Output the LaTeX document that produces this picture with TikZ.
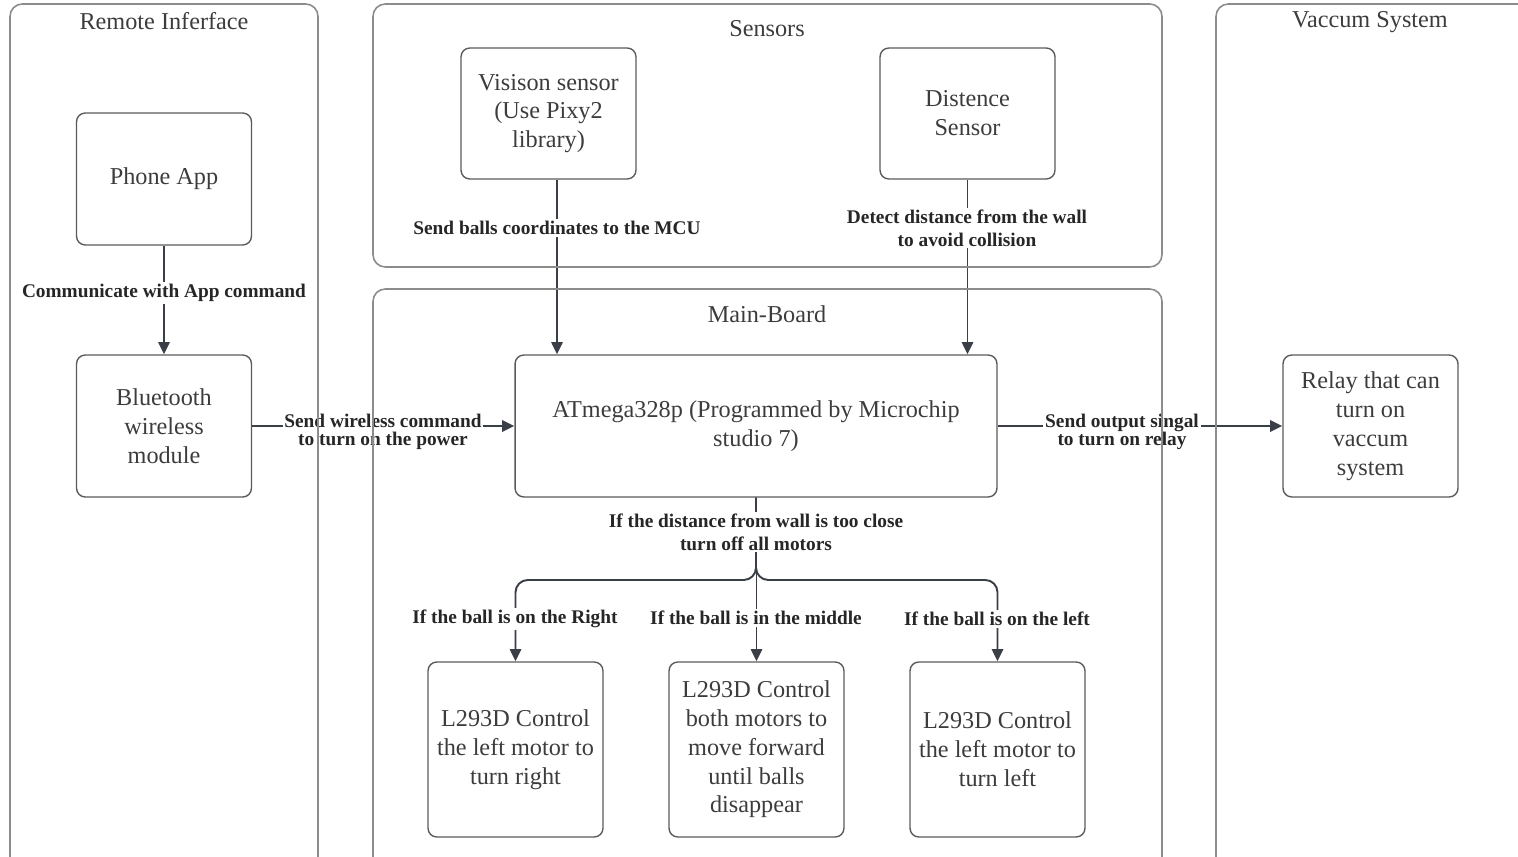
\documentclass[tikz,border=0pt]{standalone}
\usepackage{fontspec}
\setmainfont{Liberation Serif}
\usepackage{tikz}
\usetikzlibrary{shapes.geometric, arrows, arrows.meta}
\definecolor{linegray}{HTML}{3A3F47}
\definecolor{framegray}{HTML}{8C8C8C}
\definecolor{boxgray}{HTML}{5A5A5A}
\definecolor{textgray}{HTML}{3C3C3C}
\tikzstyle{group} = [draw=framegray, rounded corners=7pt, line width=0.9pt]
\tikzstyle{grouptitle} = [text=textgray, font=\fontsize{13.8}{16.4}\selectfont]
\tikzstyle{process} = [rectangle, rounded corners=5pt, minimum width=3.5cm, minimum height=2.84cm, align=center, draw=boxgray, line width=0.8pt, text=textgray, font=\fontsize{13.8}{16.4}\selectfont]
\tikzstyle{lbl} = [fill=white, inner sep=1pt, align=center, text=black!85, font=\bfseries\fontsize{11}{13}\selectfont]
\tikzstyle{arrow} = [line width=1.1pt, draw=linegray, -{Triangle[length=7pt,width=6.5pt]}]

\begin{document}
\begin{tikzpicture}[x=0.02cm, y=-0.02cm]
        \useasboundingbox (0,0) rectangle (1518,857);
        \clip (0,0) rectangle (1518,857);
        % boxes
        \node (app) [process, minimum height=2.64cm] at (164,179) {Phone App};
        \node (bt) [process] at (164,426) {Bluetooth\\wireless\\module};
        \node (vis) [process, minimum height=2.62cm] at (548.5,113.5) {Visison sensor\\(Use Pixy2\\library)};
        \node (dist) [process, minimum height=2.62cm] at (967.5,113.5) {Distence\\Sensor};
        \node (mcu) [process, minimum width=9.64cm] at (756,426) {ATmega328p (Programmed by Microchip\\studio 7)};
        \node (relay) [process] at (1370.5,426) {Relay that can\\turn on\\vaccum\\system};
        \node (right) [process, minimum height=3.5cm] at (515.5,749.5) {L293D Control\\the left motor to\\turn right};
        \node (fwd) [process, minimum height=3.5cm] at (756.5,749.5) {L293D Control\\both motors to\\move forward\\until balls\\disappear};
        \node (left) [process, minimum height=3.5cm] at (997.5,749.5) {L293D Control\\the left motor to\\turn left};
        \coordinate (vx) at (557,0);
        \coordinate (split) at (756,580);
        % connectors
        \draw [arrow] (app) -- (bt);
        \draw [arrow] (vis.south -| vx) -- (mcu.north -| vx);
        \draw [arrow] (dist.south) -- (mcu.north -| dist.south);
        \draw [arrow] (bt) -- (mcu);
        \draw [arrow] (mcu) -- (relay);
        \draw [arrow] (mcu.south -| fwd.north) -- (fwd.north);
        \draw [arrow, rounded corners=7pt] (mcu.south -| split) -- (split) -| (right.north);
        \draw [arrow, rounded corners=7pt] (mcu.south -| split) -- (split) -| (left.north);
        % labels
        \node (l1) [lbl] at (164,293) {Communicate with App command};
        \node (l2) [lbl] at (557,228) {Send balls coordinates to the MCU};
        \node (l3) [lbl] at (967,228) {Detect distance from the wall\\to avoid collision};
        \node (l4) [lbl, font=\bfseries\fontsize{11}{10.5}\selectfont] at (383,432) {Send wireless command\\to turn on the power};
        \node (l5) [lbl, font=\bfseries\fontsize{11}{10.5}\selectfont] at (1122,432) {Send output singal\\to turn on relay};
        \node (l6) [lbl] at (756,532) {If the distance from wall is too close\\turn off all motors};
        \node (l7) [lbl] at (515,619) {If the ball is on the Right};
        \node (l8) [lbl] at (756,618) {If the ball is in the middle};
        \node (l9) [lbl] at (997,619) {If the ball is on the left};
        % groups
        \draw [group] (10,4) rectangle (318,900);
        \draw [group] (373,4) rectangle (1162,267);
        \draw [group] (373,289) rectangle (1162,900);
        \draw [group] (1216,4) rectangle (1560,900);
        \node (g1) [grouptitle] at (164,21) {Remote Inferface};
        \node (g2) [grouptitle] at (767,29) {Sensors};
        \node (g3) [grouptitle] at (767,314) {Main-Board};
        \node (g4) [grouptitle] at (1370,22) {Vaccum System};
    \end{tikzpicture}
\end{document}
